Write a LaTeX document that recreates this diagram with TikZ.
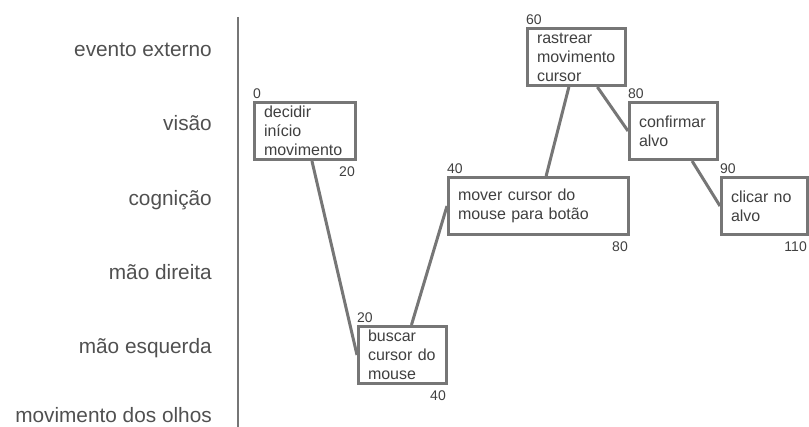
\documentclass[tikz,border=0pt]{standalone}
\usepackage{fontspec}
\setmainfont{Liberation Sans}
\begin{document}
\begin{tikzpicture}[x=1pt,y=-1pt,
  lane/.style={anchor=base east, inner sep=0pt, text=lanegray,
    font=\fontsize{20.8}{24}\selectfont},
  task/.style={draw=boxgray, line width=3pt, fill=white, rectangle,
    minimum height=57pt, inner xsep=9.5pt, inner ysep=1pt, align=left,
    text=textgray, font=\fontsize{16}{19}\selectfont},
  tstart/.style={anchor=base west, inner sep=0pt, text=textgray,
    font=\fontsize{14}{16}\selectfont},
  tend/.style={anchor=base east, inner sep=0pt, text=textgray,
    font=\fontsize{14}{16}\selectfont},
  link/.style={draw=boxgray, line width=3pt},
  axis/.style={draw=boxgray, line width=1.5pt}
]
\definecolor{boxgray}{HTML}{767676}
\definecolor{textgray}{HTML}{404040}
\definecolor{lanegray}{HTML}{505050}
\useasboundingbox (0,0) rectangle (809,427);
\clip (0,0) rectangle (809,427);

% lane names and the separating axis
\node[lane] (l1) at (212,56.5) {evento externo};
\node[lane] (l2) at (212,131) {visão};
\node[lane] (l3) at (212,205.5) {cognição};
\node[lane] (l4) at (212,279.5) {mão direita};
\node[lane] (l5) at (212,354) {mão esquerda};
\node[lane] (l6) at (212,423) {movimento dos olhos};
\coordinate (axtop) at (238,17);
\coordinate (axbot) at (238,427);
\draw[axis] (axtop) -- (axbot);

% operators
\node[task, text width=82pt] (b1) at (305,131) {decidir\\início\\movimento};
\node[task, text width=69pt] (b2) at (402.5,355) {buscar\\cursor do\\mouse};
\node[task, text width=161pt] (b3) at (538.5,206) {mover cursor do\\mouse para botão};
\node[task, text width=79pt] (b4) at (576.5,57) {rastrear\\movimento\\cursor};
\node[task, text width=69pt] (b5) at (673.5,131) {confirmar\\alvo};
\node[task, text width=67pt] (b6) at (764.5,206) {clicar no\\alvo};

% start and end times
\foreach \b/\s/\e in {b1/0/20, b2/20/40, b3/40/80, b6/90/110}{
  \node[tstart] (\b s) at ([yshift=2pt]\b.north west) {\s};
  \node[tend] (\b e) at ([xshift=-2pt,yshift=-16pt]\b.south east) {\e};
}
\node[tstart] (b4s) at ([yshift=2pt]b4.north west) {60};
\node[tstart] (b5s) at ([yshift=2pt]b5.north west) {80};

% dependencies
\draw[link] (b1) -- (b2.west);
\draw[link] (b2) -- (b3.west);
\draw[link] (b3) -- (b4);
\draw[link] (b4) -- (b5.west);
\draw[link] (b5) -- (b6.west);
\end{tikzpicture}
\end{document}
